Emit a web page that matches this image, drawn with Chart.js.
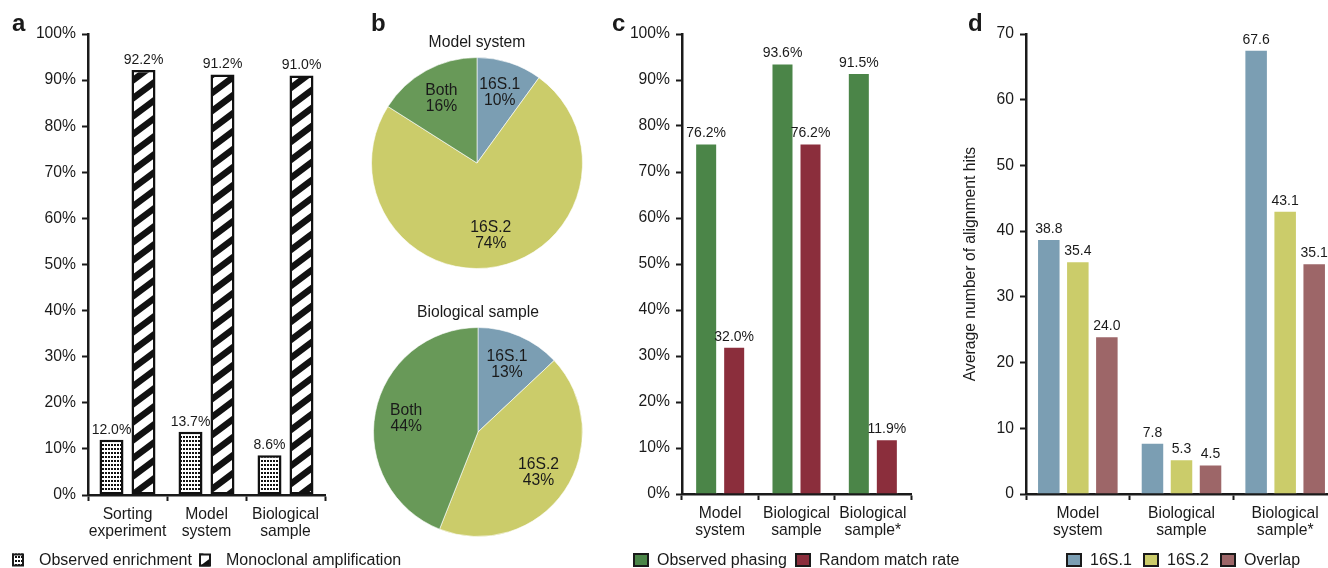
<!DOCTYPE html>
<html>
<head>
<meta charset="utf-8">
<script src="https://cdn.jsdelivr.net/npm/chart.js@4.4.1/dist/chart.umd.min.js"></script>
<style>
  html, body { margin: 0; padding: 0; background: #fff; }
  body { width: 1328px; height: 568px; overflow: hidden; position: relative; }
  canvas { position: absolute; }
  .tag { position: absolute; font: bold 24px/24px "Liberation Sans", Arial, sans-serif; color: #1a1a1a; }
</style>
</head>
<body>
<canvas id="chartA" width="420" height="568" style="left:0;top:0"></canvas>
<canvas id="pieModel" width="240" height="290" style="left:360px;top:0"></canvas>
<canvas id="pieBio" width="240" height="278" style="left:360px;top:290px"></canvas>
<canvas id="chartC" width="380" height="568" style="left:600px;top:0"></canvas>
<canvas id="chartD" width="380" height="568" style="left:960px;top:0"></canvas>
<div class="tag" style="left:12px;top:11px">a</div>
<div class="tag" style="left:371px;top:11px">b</div>
<div class="tag" style="left:612px;top:11px">c</div>
<div class="tag" style="left:968px;top:11px">d</div>
<script>
// ---- data ----
const enrichCategories = [['Sorting', 'experiment'], ['Model', 'system'], ['Biological', 'sample']];
const observedEnrichment = [12.0, 13.7, 8.6];
const monoclonalAmplification = [92.2, 91.2, 91.0];

const pieLabels = ['16S.1', '16S.2', 'Both'];
const modelSystemShare = [10, 74, 16];
const biologicalSampleShare = [13, 43, 44];

const phasingCategories = [['Model', 'system'], ['Biological', 'sample'], ['Biological', 'sample*']];
const observedPhasing = [76.2, 93.6, 91.5];
const randomMatchRate = [32.0, 76.2, 11.9];

const hitsCategories = [['Model', 'system'], ['Biological', 'sample'], ['Biological', 'sample*']];
const hits16S1 = [38.8, 7.8, 67.6];
const hits16S2 = [35.4, 5.3, 43.1];
const hitsOverlap = [24.0, 4.5, 35.1];

// ---- styling ----
const FONT = '"Liberation Sans", Arial, sans-serif';
const INK = '#1a1a1a';
const AXIS = '#1a1a1a';
const BLUE = '#7b9eb3', YELLOW = '#cbcc6a', MAUVE = '#9d6668';
const PIE_GREEN = '#689958';
const BAR_GREEN = '#4b8548', BAR_RED = '#8b2e3c';

Chart.defaults.font.family = FONT;
Chart.defaults.color = INK;

function dotPattern() {
  const c = document.createElement('canvas');
  c.width = 3; c.height = 4;
  const g = c.getContext('2d');
  g.fillStyle = '#fff'; g.fillRect(0, 0, 3, 4);
  g.fillStyle = '#111'; g.fillRect(0, 0, 2, 2);
  return g.createPattern(c, 'repeat');
}

function hatchPattern() {
  const W = 24, H = 18;
  const c = document.createElement('canvas');
  c.width = W; c.height = H;
  const g = c.getContext('2d');
  g.fillStyle = '#fff'; g.fillRect(0, 0, W, H);
  g.strokeStyle = '#111'; g.lineWidth = 6.5;
  g.beginPath();
  for (const o of [-W, 0, W]) { g.moveTo(o - W, 2 * H); g.lineTo(o + 2 * W, -H); }
  g.stroke();
  return g.createPattern(c, 'repeat');
}

// numbers printed above each bar
function valueLabels(fmt) {
  return {
    id: 'valueLabels',
    afterDatasetsDraw(chart) {
      const ctx = chart.ctx;
      ctx.save();
      ctx.font = `14px ${FONT}`;
      ctx.fillStyle = INK;
      ctx.textAlign = 'center';
      ctx.textBaseline = 'bottom';
      chart.data.datasets.forEach((ds, di) => {
        chart.getDatasetMeta(di).data.forEach((bar, i) => {
          ctx.fillText(fmt(ds.data[i]), bar.x, bar.y - 3);
        });
      });
      ctx.restore();
    }
  };
}

// one-row key under the plot
function legendRow(spec) {
  return {
    id: 'legendRow',
    afterDraw(chart) {
      const ctx = chart.ctx;
      const lw = spec.lineWidth;
      ctx.save();
      ctx.font = `16px ${FONT}`;
      ctx.textBaseline = 'middle';
      ctx.textAlign = 'left';
      chart.data.datasets.forEach((ds, i) => {
        const x = spec.xs[i];
        const top = spec.y - spec.boxH / 2;
        ctx.fillStyle = ds.backgroundColor;
        ctx.fillRect(x, top, spec.boxW, spec.boxH);
        ctx.lineWidth = lw;
        ctx.strokeStyle = AXIS;
        ctx.strokeRect(x + lw / 2, top + lw / 2, spec.boxW - lw, spec.boxH - lw);
        ctx.fillStyle = INK;
        ctx.fillText(ds.label, x + spec.boxW + spec.gap, spec.y + 0.5);
      });
      ctx.restore();
    }
  };
}

function makeBarChart(id, labels, datasets, opt) {
  const canvas = document.getElementById(id);
  const W = canvas.width, H = canvas.height;
  const axisBorder = { display: true, color: AXIS, width: 2.5 };
  const tickGrid = { display: true, drawOnChartArea: false, drawTicks: true, tickLength: 6, tickWidth: 2, tickColor: AXIS };
  return new Chart(canvas, {
    type: 'bar',
    data: { labels, datasets },
    options: {
      responsive: false,
      animation: false,
      devicePixelRatio: 1,
      layout: { padding: { left: 0, top: opt.top, right: W - opt.right, bottom: H - opt.bottom - opt.xAxisH } },
      plugins: { legend: { display: false }, tooltip: { enabled: false } },
      datasets: { bar: { categoryPercentage: opt.catPct, barPercentage: opt.barPct } },
      scales: {
        x: {
          offset: true,
          grid: Object.assign({ offset: true }, tickGrid),
          border: axisBorder,
          ticks: { font: { size: 15.7, lineHeight: 1.1 }, color: INK, padding: 5, maxRotation: 0, autoSkip: false },
          afterFit: s => { s.height = opt.xAxisH; }
        },
        y: {
          min: 0, max: opt.max,
          grid: tickGrid,
          border: axisBorder,
          ticks: { stepSize: 10, callback: opt.tickFmt, font: { size: 15.7 }, color: INK, padding: 6 },
          title: opt.yTitle
            ? { display: true, text: opt.yTitle, font: { size: 15.7 }, color: INK, padding: { top: 1, bottom: 0 } }
            : { display: false },
          afterFit: s => { s.width = opt.left; }
        }
      }
    },
    plugins: [valueLabels(opt.valueFmt), legendRow(opt.legend)]
  });
}

// labels written inside each slice
const sliceLabels = {
  id: 'sliceLabels',
  afterDatasetsDraw(chart) {
    const ctx = chart.ctx;
    const ds = chart.data.datasets[0];
    ctx.save();
    ctx.font = `15.7px ${FONT}`;
    ctx.fillStyle = INK;
    ctx.textAlign = 'center';
    ctx.textBaseline = 'middle';
    chart.getDatasetMeta(0).data.forEach((arc, i) => {
      const mid = (arc.startAngle + arc.endAngle) / 2;
      const r = arc.outerRadius * 0.7;
      const x = arc.x + Math.cos(mid) * r;
      const y = arc.y + Math.sin(mid) * r;
      ctx.fillText(chart.data.labels[i], x, y - 8);
      ctx.fillText(ds.data[i] + '%', x, y + 8);
    });
    ctx.restore();
  }
};

function makePie(id, title, values, opt) {
  return new Chart(document.getElementById(id), {
    type: 'pie',
    data: {
      labels: pieLabels,
      datasets: [{ data: values, backgroundColor: [BLUE, YELLOW, PIE_GREEN], borderColor: 'rgba(255,255,255,0.6)', borderWidth: 1 }]
    },
    options: {
      responsive: false,
      animation: false,
      devicePixelRatio: 1,
      layout: { padding: opt.pad },
      plugins: {
        legend: { display: false },
        tooltip: { enabled: false },
        title: { display: true, text: title, color: INK, font: { size: 15.7, weight: 'normal', lineHeight: 1.2 }, padding: opt.titlePad }
      }
    },
    plugins: [sliceLabels]
  });
}

const pct = v => v + '%';
const pct1 = v => v.toFixed(1) + '%';
const num1 = v => v.toFixed(1);

// a: enrichment vs. amplification
makeBarChart('chartA', enrichCategories, [
  { label: 'Observed enrichment', data: observedEnrichment, backgroundColor: dotPattern(), borderColor: '#111', borderWidth: 2.5, borderSkipped: false },
  { label: 'Monoclonal amplification', data: monoclonalAmplification, backgroundColor: hatchPattern(), borderColor: '#111', borderWidth: 2.5, borderSkipped: false }
], {
  left: 88, right: 325, top: 34, bottom: 495, xAxisH: 50, max: 100,
  catPct: 0.81, barPct: 0.75, tickFmt: pct, valueFmt: pct1,
  legend: { xs: [12, 199], y: 560, boxW: 12, boxH: 13, gap: 15, lineWidth: 2 }
});

// b: share of reads per reference
makePie('pieModel', 'Model system', modelSystemShare, {
  pad: { top: 0, left: 11, right: 17, bottom: 21 },
  titlePad: { top: 33.6, bottom: 4.6 }
});
makePie('pieBio', 'Biological sample', biologicalSampleShare, {
  pad: { top: 0, left: 13, right: 17, bottom: 31 },
  titlePad: { top: 13.6, bottom: 4.6 }
});

// c: phasing success
makeBarChart('chartC', phasingCategories, [
  { label: 'Observed phasing', data: observedPhasing, backgroundColor: BAR_GREEN, borderColor: 'rgba(255,255,255,0.55)', borderWidth: 1 },
  { label: 'Random match rate', data: randomMatchRate, backgroundColor: BAR_RED, borderColor: 'rgba(255,255,255,0.55)', borderWidth: 1 }
], {
  left: 82, right: 311, top: 34, bottom: 494, xAxisH: 50, max: 100,
  catPct: 0.734, barPct: 0.786, tickFmt: pct, valueFmt: pct1,
  legend: { xs: [33, 195], y: 560, boxW: 16, boxH: 14, gap: 8, lineWidth: 2 }
});

// d: alignment hits
makeBarChart('chartD', hitsCategories, [
  { label: '16S.1', data: hits16S1, backgroundColor: BLUE, borderColor: 'rgba(255,255,255,0.55)', borderWidth: 1 },
  { label: '16S.2', data: hits16S2, backgroundColor: YELLOW, borderColor: 'rgba(255,255,255,0.55)', borderWidth: 1 },
  { label: 'Overlap', data: hitsOverlap, backgroundColor: MAUVE, borderColor: 'rgba(255,255,255,0.55)', borderWidth: 1 }
], {
  left: 66, right: 377, top: 34, bottom: 494, xAxisH: 50, max: 70,
  catPct: 0.84, barPct: 0.81, tickFmt: v => v, valueFmt: num1,
  yTitle: 'Average number of alignment hits',
  legend: { xs: [106, 183, 260], y: 560, boxW: 16, boxH: 14, gap: 8, lineWidth: 2 }
});
</script>
</body>
</html>
